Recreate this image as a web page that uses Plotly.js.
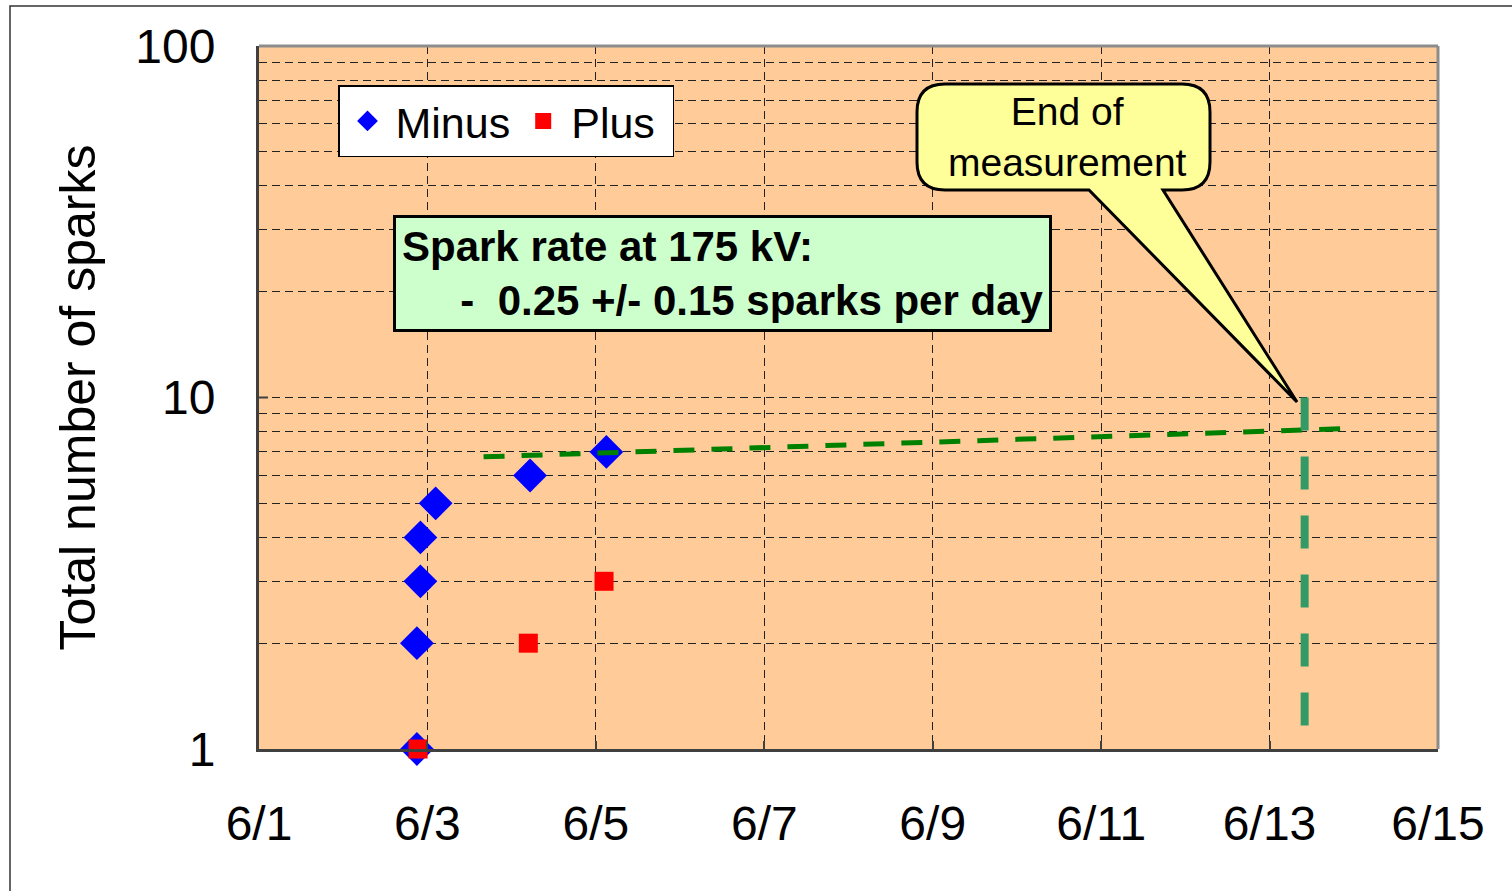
<!DOCTYPE html>
<html>
<head>
<meta charset="utf-8">
<script src="https://cdn.plot.ly/plotly-3.0.1.min.js"></script>
<style>html,body{margin:0;padding:0;background:#fff;}#chart{width:1512px;height:891px;}</style>
</head>
<body>
<div id="chart"></div>
<script>
// ---- data ----
const minusDates = ['2008-06-02 21:00','2008-06-02 21:00','2008-06-02 22:00','2008-06-02 22:00','2008-06-03 02:20','2008-06-04 05:15','2008-06-05 03:00'];
const minusCounts = [1, 2, 3, 4, 5, 6, 7];
const plusDates = ['2008-06-02 21:20','2008-06-04 04:45','2008-06-05 02:20'];
const plusCounts = [1, 2, 3];
const fitDates = ['2008-06-03 16:00','2008-06-13 21:50'];
const fitCounts = [6.78, 8.16];
const endDates = ['2008-06-13 10:00','2008-06-13 10:00'];
const endCounts = [10, 1.15];
const xRange = ['2008-06-01','2008-06-15'];
const yTickVals = [1,2,3,4,5,6,7,8,9,10,20,30,40,50,60,70,80,90,100];
const yTickText = ['1','','','','','','','','','10','','','','','','','','','100'];
const seriesNames = ['Minus','Plus'];

// ---- layout helpers (pixel -> paper) ----
const L = 259, R = 1438, T = 46, B = 749;
const px = x => (x - L) / (R - L);
const py = y => (B - y) / (B - T);
const P = (x, y) => px(x).toFixed(5) + ',' + py(y).toFixed(5);

// callout path (rounded box with pointer)
const bx0 = 917, bx1 = 1210, by0 = 84, by1 = 190, rr = 28;
const calloutPath = 'M' + P(bx0 + rr, by0) +
  ' L' + P(bx1 - rr, by0) + ' Q' + P(bx1, by0) + ' ' + P(bx1, by0 + rr) +
  ' L' + P(bx1, by1 - rr) + ' Q' + P(bx1, by1) + ' ' + P(bx1 - rr, by1) +
  ' L' + P(1163, by1) + ' L' + P(1297, 402) + ' L' + P(1089, by1) +
  ' L' + P(bx0 + rr, by1) + ' Q' + P(bx0, by1) + ' ' + P(bx0, by1 - rr) +
  ' L' + P(bx0, by0 + rr) + ' Q' + P(bx0, by0) + ' ' + P(bx0 + rr, by0) + ' Z';

const FONT = 'Liberation Sans, Arial, sans-serif';
const gridDash = '8px,5px';

const traces = [
  {x: minusDates, y: minusCounts, name: seriesNames[0], type: 'scatter', mode: 'markers',
   marker: {symbol: 'diamond', size: 26, color: '#0000FF'}, cliponaxis: false},
  {x: plusDates, y: plusCounts, name: seriesNames[1] + '\u00A0', type: 'scatter', mode: 'markers',
   marker: {symbol: 'square', size: 19, color: '#FF0000'}, cliponaxis: false},
  {x: fitDates, y: fitCounts, type: 'scatter', mode: 'lines', showlegend: false, hoverinfo: 'skip',
   line: {color: '#008000', width: 5, dash: '21px,17px'}},
  {x: endDates, y: endCounts, type: 'scatter', mode: 'lines', showlegend: false, hoverinfo: 'skip',
   line: {color: '#339966', width: 8, dash: '33px,26px'}}
];

const layout = {
  width: 1512, height: 891,
  margin: {l: L, r: 1512 - R, t: T, b: 891 - B, pad: 0},
  paper_bgcolor: '#FFFFFF',
  plot_bgcolor: '#FFCC99',
  font: {family: FONT, color: '#000'},
  showlegend: true,
  legend: {
    orientation: 'h', x: px(338), y: py(85), xanchor: 'left', yanchor: 'top',
    bgcolor: '#FFFFFF', bordercolor: '#000', borderwidth: 1.5,
    font: {size: 43, family: FONT}, itemwidth: 46, tracegroupgap: 0
  },
  xaxis: {
    type: 'date', range: xRange, tickformat: '%-m/%-d',
    tick0: '2008-06-01', dtick: 2 * 86400000,
    showgrid: true, gridcolor: '#222', gridwidth: 1, griddash: gridDash,
    showline: true, linecolor: '#404040', linewidth: 3,
    ticks: 'inside', ticklen: 8, tickcolor: '#404040', tickwidth: 2,
    tickfont: {size: 48, family: FONT}, ticklabelstandoff: 30,
    zeroline: false, fixedrange: true
  },
  yaxis: {
    type: 'log', range: [0, 2],
    tickmode: 'array', tickvals: yTickVals, ticktext: yTickText,
    showgrid: true, gridcolor: '#222', gridwidth: 1, griddash: gridDash,
    showline: true, linecolor: '#404040', linewidth: 3,
    ticks: '', tickfont: {size: 48, family: FONT}, ticklabelstandoff: 31,
    title: {text: 'Total number of sparks', font: {size: 50, family: FONT}, standoff: 24},
    zeroline: false, fixedrange: true
  },
  shapes: [
    // outer frame
    {type: 'rect', xref: 'paper', yref: 'paper', x0: px(10), x1: px(1530), y0: py(900), y1: py(6),
     line: {color: '#333', width: 1.5}, layer: 'below'},
    // plot area top/right frame
    {type: 'line', xref: 'paper', yref: 'paper', x0: 0, x1: 1, y0: 1, y1: 1, line: {color: '#8c8c8c', width: 3}},
    {type: 'line', xref: 'paper', yref: 'paper', x0: 1, x1: 1, y0: 0, y1: 1, line: {color: '#8c8c8c', width: 3}},
    // major y tick at 10
    {type: 'line', xref: 'paper', yref: 'paper', x0: 0, x1: px(L + 9), y0: 0.5, y1: 0.5, line: {color: '#404040', width: 2}},
    // callout
    {type: 'path', xref: 'paper', yref: 'paper', path: calloutPath,
     fillcolor: '#FFFF99', line: {color: '#000', width: 3}}
  ],
  annotations: [
    {xref: 'paper', yref: 'paper', x: px(393), y: py(215), xanchor: 'left', yanchor: 'top',
     text: '<b>Spark rate at 175 kV:</b><br><b>\u00A0\u00A0\u00A0\u00A0\u00A0-\u00A0\u00A00.25 +/- 0.15 sparks per day</b>',
     align: 'left', showarrow: false, font: {size: 42, family: FONT, color: '#000'},
     bgcolor: '#CCFFCC', bordercolor: '#000', borderwidth: 3, borderpad: 6,
     width: 641, height: 99, valign: 'middle'},
    {xref: 'paper', yref: 'paper', x: px(1067), y: py(137), xanchor: 'center', yanchor: 'middle',
     text: 'End of<br>measurement', align: 'center', showarrow: false,
     font: {size: 39, family: FONT, color: '#000'}}
  ]
};

Plotly.newPlot('chart', traces, layout, {displayModeBar: false, staticPlot: true});
</script>
</body>
</html>
